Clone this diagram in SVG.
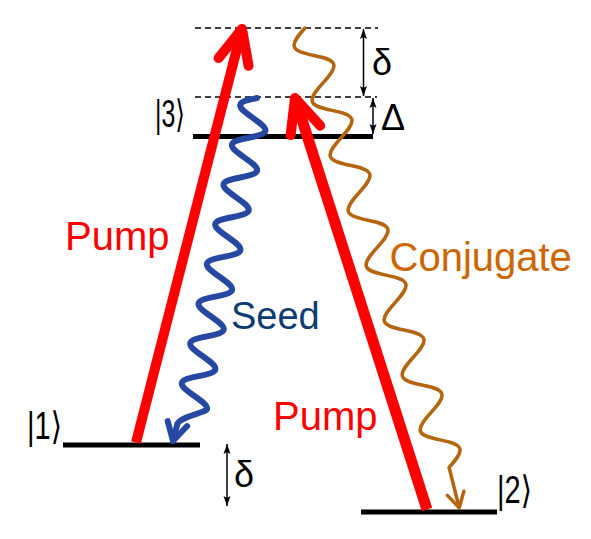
<svg xmlns="http://www.w3.org/2000/svg" width="591" height="539" viewBox="0 0 591 539">
<style>
text{font-family:"Liberation Sans",Arial,"DejaVu Sans",sans-serif}
.lvl{stroke:#000;stroke-width:5;fill:none}
.dash{stroke:#000;stroke-width:1.5;stroke-dasharray:6 4;fill:none}
.pump{stroke:#f00;fill:none;stroke-linecap:butt}
.dim{stroke:#000;stroke-width:1.5;fill:none;marker-start:url(#dh);marker-end:url(#dh)}
.ket{font-size:38px;fill:#000}
.greek{font-size:36px;fill:#000}
.red{font-size:40px;fill:#f00}
</style>
<defs>
<marker id="ph" markerUnits="userSpaceOnUse" orient="auto" refX="0" refY="0" markerWidth="1" markerHeight="1" overflow="visible">
<path d="M-34,-15.5 L0,0 L-34,15.5" fill="none" stroke="#f00" stroke-width="10" stroke-linecap="round" stroke-linejoin="round"/>
</marker>
<marker id="sh" markerUnits="userSpaceOnUse" orient="auto" refX="0" refY="0" markerWidth="1" markerHeight="1" overflow="visible">
<path d="M-18,-10 L0,0 L-18,10" fill="none" stroke="#2648A2" stroke-width="6" stroke-linecap="round" stroke-linejoin="round"/>
</marker>
<marker id="ch" markerUnits="userSpaceOnUse" orient="auto" refX="0" refY="0" markerWidth="1" markerHeight="1" overflow="visible">
<path d="M-15,-8.5 L0,0 L-15,8.5" fill="none" stroke="#B4650E" stroke-width="3.5" stroke-linecap="round" stroke-linejoin="round"/>
</marker>
<marker id="dh" markerUnits="userSpaceOnUse" orient="auto-start-reverse" refX="0" refY="0" markerWidth="1" markerHeight="1" overflow="visible">
<path d="M0,0 L-10,-3.5 L-8,0 L-10,3.5 z" fill="#000"/>
</marker>
</defs>

<g id="virtual-levels">
<line class="dash" x1="195" y1="28" x2="378" y2="28"/>
<line class="dash" x1="195" y1="97" x2="377" y2="97"/>
</g>

<g id="level-3">
<line class="lvl" x1="193" y1="136.5" x2="373" y2="136.5"/>
<text class="ket" x="155" y="127" textLength="30" lengthAdjust="spacingAndGlyphs">|3⟩</text>
</g>
<g id="level-1">
<line class="lvl" x1="63" y1="445" x2="200" y2="445"/>
<text class="ket" x="27" y="438.5" textLength="35" lengthAdjust="spacingAndGlyphs">|1⟩</text>
</g>
<g id="level-2">
<line class="lvl" x1="361" y1="512" x2="497" y2="512"/>
<text class="ket" x="497" y="503" textLength="35" lengthAdjust="spacingAndGlyphs">|2⟩</text>
</g>

<g id="detuning-delta-top">
<line class="dim" x1="363.5" y1="29" x2="363.5" y2="96"/>
<text class="greek" x="372" y="75">δ</text>
</g>
<g id="detuning-Delta">
<line class="dim" x1="373" y1="98" x2="373" y2="134"/>
<text class="greek" x="381" y="130">Δ</text>
</g>
<g id="detuning-delta-bottom">
<line class="dim" x1="227" y1="444" x2="227" y2="506"/>
<text class="greek" x="234" y="487">δ</text>
</g>

<g id="connectors">
<path id="pump-1" class="pump" stroke-width="10" d="M136,442.5 L242,29" marker-end="url(#ph)"/>
<path id="pump-2" class="pump" stroke-width="11" d="M427,509.5 L295,98" marker-end="url(#ph)"/>
<g id="seed-wave" transform="translate(257,98) rotate(101.86)">
<path fill="none" stroke="#2648A2" stroke-width="6" stroke-linecap="round" marker-end="url(#sh)" d="M0,0 c3.3,7.66 6.5,15 10.15,15 s6.85,-7.34 10.15,-15 s6.5,-15 10.15,-15 s6.85,7.34 10.15,15 s6.5,15 10.15,15 s6.85,-7.34 10.15,-15 s6.5,-15 10.15,-15 s6.85,7.34 10.15,15 s6.5,15 10.15,15 s6.85,-7.34 10.15,-15 s6.5,-15 10.15,-15 s6.85,7.34 10.15,15 s6.5,15 10.15,15 s6.85,-7.34 10.15,-15 s6.5,-15 10.15,-15 s6.85,7.34 10.15,15 s6.5,15 10.15,15 s6.85,-7.34 10.15,-15 s6.5,-15 10.15,-15 s6.85,7.34 10.15,15 s6.5,15 10.15,15 s6.85,-7.34 10.15,-15 s6.5,-15 10.15,-15 s6.85,7.34 10.15,15 s6.5,15 10.15,15 s6.85,-7.34 10.15,-15 s6.5,-15 10.15,-15 s6.85,7.34 10.15,15 s6.5,15 10.15,15 s6.85,-7.34 10.15,-15 s6.5,-15 10.15,-15 S328,11 336,11 L353,11.7"/>
</g>
<g id="conjugate-wave" transform="translate(305,28) rotate(71.84)">
<path fill="none" stroke="#B4650E" stroke-width="3.5" stroke-linecap="round" marker-end="url(#ch)" d="M0,0 c4.7,8.17 9.26,16 14.45,16 s9.75,-7.83 14.45,-16 s9.26,-16 14.45,-16 s9.75,7.83 14.45,16 s9.26,16 14.45,16 s9.75,-7.83 14.45,-16 s9.26,-16 14.45,-16 s9.75,7.83 14.45,16 s9.26,16 14.45,16 s9.75,-7.83 14.45,-16 s9.26,-16 14.45,-16 s9.75,7.83 14.45,16 s9.26,16 14.45,16 s9.75,-7.83 14.45,-16 s9.26,-16 14.45,-16 s9.75,7.83 14.45,16 s9.26,16 14.45,16 s9.75,-7.83 14.45,-16 s9.26,-16 14.45,-16 s9.75,7.83 14.45,16 s9.26,16 14.45,16 s9.75,-7.83 14.45,-16 s9.26,-16 14.45,-16 s9.75,7.83 14.45,16 s9.26,16 14.45,16 s9.75,-7.83 14.45,-16 s9.26,-16 14.45,-16 s9.75,7.83 14.45,16 s9.26,16 14.45,16 s9.75,-7.83 14.45,-16 s9.26,-16 14.45,-16 s9.75,7.83 14.45,16 L504,3"/>
</g>
</g>

<g id="label-pump-1"><text class="red" x="65" y="250">Pump</text></g>
<g id="label-pump-2"><text class="red" x="273" y="430">Pump</text></g>
<g id="label-seed"><text x="231" y="329" font-size="38" fill="#0E3C72">Seed</text></g>
<g id="label-conjugate"><text x="389.5" y="271" font-size="40" fill="#CC6600">Conjugate</text></g>
</svg>
